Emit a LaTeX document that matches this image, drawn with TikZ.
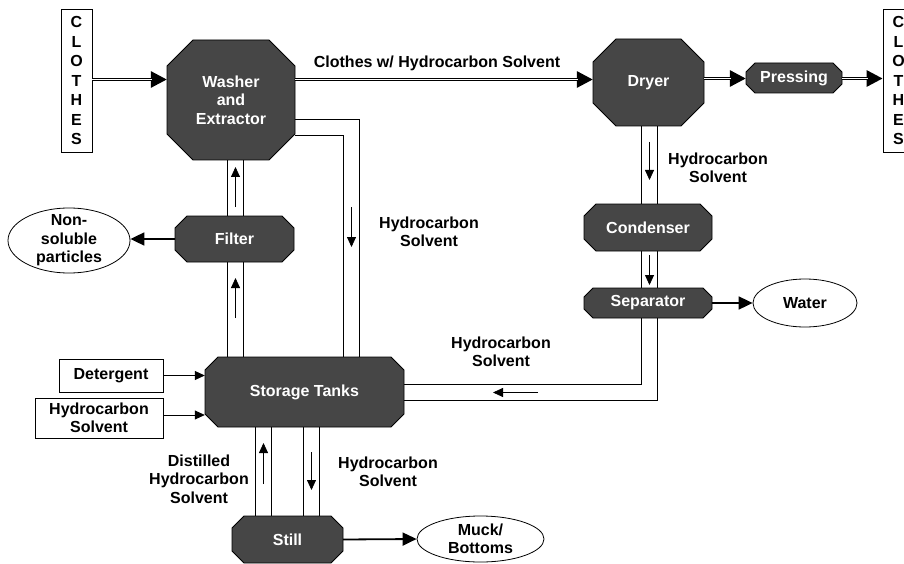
\documentclass[tikz,border=0pt]{standalone}
\usepackage{fontspec}
\setmainfont{Liberation Sans}
\usetikzlibrary{shapes.geometric,arrows.meta}

\pgfdeclarelayer{background}
\pgfsetlayers{background,main}

\definecolor{unitgray}{HTML}{464646}

% process unit: name, centre, width, height, corner cut, text
\newcommand{\procunit}[6]{%
  \filldraw[unit, shift={(#2)}]
    (-#3/2+#5,-#4/2) -- (#3/2-#5,-#4/2) -- (#3/2,-#4/2+#5) -- (#3/2,#4/2-#5)
    -- (#3/2-#5,#4/2) -- (-#3/2+#5,#4/2) -- (-#3/2,#4/2-#5) -- (-#3/2,-#4/2+#5) -- cycle;
  \node[unittext, minimum width=#3, minimum height=#4] (#1) at (#2) {#6};}

\begin{document}
\begin{tikzpicture}[
  x=1pt, y=-1pt,
  every node/.style={font=\fontsize{16}{18.5}\selectfont\bfseries, align=center, inner sep=0pt},
  unit/.style={fill=unitgray, draw=black, line width=0.8pt},
  unittext/.style={text=white},
  feed/.style={draw, line width=0.8pt},
  stack/.style={draw, line width=0.8pt, font=\fontsize{16}{19.5}\selectfont\bfseries, minimum width=31, minimum height=143},
  outcome/.style={ellipse, draw, line width=0.8pt},
  clothline/.style={line width=3pt, -{Triangle[length=16pt,width=16pt]}},
  clothcore/.style={draw=white, line width=1pt, shorten >=15pt},
  pipe/.style={double, double distance=15pt, line width=1pt, line join=miter},
  inflow/.style={line width=0.8pt, -{Triangle[length=10pt,width=9pt]}},
  outflow/.style={line width=1.8pt, -{Triangle[length=14pt,width=13pt]}},
  flow/.style={line width=0.8pt, -{Triangle[length=10pt,width=9pt]}}
]
  \useasboundingbox (0,0) rectangle (904,564);

  % clothes in and out
  \node[stack] (clothesin) at (76.5,80.5) {C\\L\\O\\T\\H\\E\\S};
  \node[stack] (clothesout) at (898.5,80.5) {C\\L\\O\\T\\H\\E\\S};

  % process units
  \procunit{washer}{231,100}{128}{120}{26}{Washer\\and\\Extractor}
  \procunit{dryer}{648.5,82.5}{111}{87}{23}{Dryer}
  \procunit{pressing}{794,78}{96}{30}{9}{Pressing}
  \procunit{condenser}{648,227.5}{128}{47}{12}{Condenser}
  \procunit{separator}{648,303}{128}{30}{9}{Separator}
  \procunit{filter}{234.5,239}{119}{46}{12}{Filter}
  \procunit{storage}{304.5,392}{199}{70}{13}{Storage Tanks}
  \procunit{still}{287.5,539.5}{111}{47}{12}{Still}

  % inputs and outputs
  \node[feed, minimum width=104, minimum height=33] (detergent) at (111,375.5) {Detergent};
  \node[feed, minimum width=128, minimum height=40] (solventin) at (99,418) {Hydrocarbon\\Solvent};
  \node[outcome, minimum width=122, minimum height=65, label=center:{Non-\\soluble\\particles}] (particles) at (69,240.5) {};
  \node[outcome, minimum width=104, minimum height=48, label=center:Water] (water) at (805,303) {};
  \node[outcome, minimum width=127, minimum height=46, label=center:{Muck/\\Bottoms}] (muck) at (480.5,539) {};

  % labels
  \node (lblclothes) at (437,63) {Clothes w/ Hydrocarbon Solvent};
  \node (lblwash) at (429,232) {Hydrocarbon\\Solvent};
  \node (lbldry) at (718,168) {Hydrocarbon\\Solvent};
  \node (lblsep) at (501,352) {Hydrocarbon\\Solvent};
  \node (lbldist) at (199,479) {Distilled\\Hydrocarbon\\Solvent};
  \node (lblstill) at (388,472) {Hydrocarbon\\Solvent};

  % clothes line
  \draw[clothline] (clothesin.east |- 0,79.5) -- (washer.west |- 0,79.5);
  \draw[clothcore] (clothesin.east |- 0,79.5) -- (washer.west |- 0,79.5);
  \draw[clothline] (washer.east |- 0,79.5) -- (dryer.west |- 0,79.5);
  \draw[clothcore] (washer.east |- 0,79.5) -- (dryer.west |- 0,79.5);
  \draw[clothline] (dryer.east |- 0,78.5) -- (pressing.west |- 0,78.5);
  \draw[clothcore] (dryer.east |- 0,78.5) -- (pressing.west |- 0,78.5);
  \draw[clothline] (pressing.east |- 0,78.5) -- (clothesout.west |- 0,78.5);
  \draw[clothcore] (pressing.east |- 0,78.5) -- (clothesout.west |- 0,78.5);

  % solvent pipes
  \begin{pgfonlayer}{background}
    \draw[pipe] (washer.east |- 0,127.5) -| (storage.north -| 351.5,0);
    \draw[pipe] (storage.north -| 235.5,0) -- (filter.south -| 235.5,0);
    \draw[pipe] (filter.north -| 235.5,0) -- (washer.south -| 235.5,0);
    \draw[pipe] (dryer.south -| 649.5,0) -- (condenser.north -| 649.5,0);
    \draw[pipe] (condenser.south -| 649.5,0) -- (separator.north -| 649.5,0);
    \draw[pipe] (separator.south -| 649.5,0) |- (storage.east |- 0,392.5);
    \draw[pipe] (storage.south -| 263.5,0) -- (still.north -| 263.5,0);
    \draw[pipe] (storage.south -| 311.5,0) -- (still.north -| 311.5,0);
  \end{pgfonlayer}

  % flow marks in the pipes
  \draw[flow] (351.5,207) -- (351.5,247);
  \draw[flow] (235.5,318) -- (235.5,278);
  \draw[flow] (235.5,207) -- (235.5,167);
  \draw[flow] (649.5,142) -- (649.5,180);
  \draw[flow] (649.5,255) -- (649.5,285);
  \draw[flow] (538,392.5) -- (493,392.5);
  \draw[flow] (311.5,452) -- (311.5,490);
  \draw[flow] (263.5,484) -- (263.5,443);

  % feeds and wastes
  \draw[inflow] (detergent.east) -- (detergent.east -| storage.west);
  \draw[inflow] ([yshift=3pt]solventin.east) -- ([yshift=3pt]solventin.east -| storage.west);
  \draw[outflow] (filter.west) -- (filter.west -| particles.east);
  \draw[outflow] (separator.east) -- (water.west);
  \draw[outflow] (still.east) -- (muck.west);
\end{tikzpicture}
\end{document}
